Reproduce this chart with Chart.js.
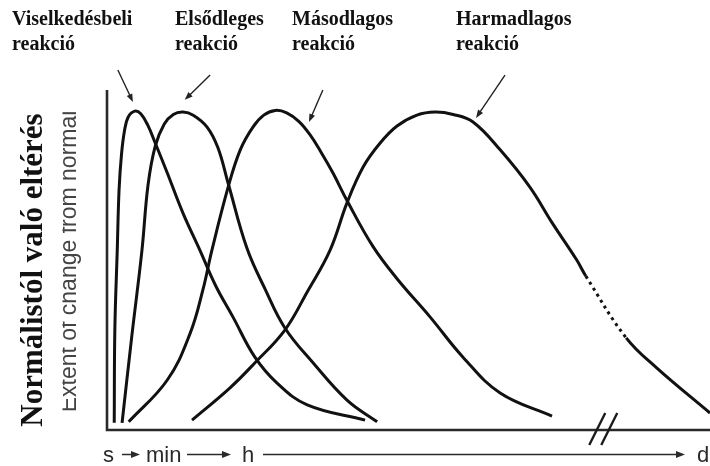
<!DOCTYPE html>
<html>
<head>
<meta charset="utf-8">
<script src="https://cdn.jsdelivr.net/npm/chart.js@4"></script>
<style>
  html, body { margin: 0; padding: 0; background: #fff; }
  #wrap { width: 710px; height: 466px; }
</style>
</head>
<body>
<div id="wrap"><canvas id="chart" width="710" height="466"></canvas></div>
<script>
// time runs 0..100 (arbitrary, s -> d), extent of change 0..100
const behavioralTime = [1.2, 1.3, 1.7, 2.0, 2.4, 2.9, 3.5, 4.6, 5.6, 6.8, 8.0, 10.0, 12.6, 15.4, 18.0, 20.9, 24.5, 28.2, 33.2, 42.8];
const behavioralExtent = [2.1, 29.4, 52.9, 70.6, 81.0, 88.0, 92.0, 93.8, 93.0, 89.5, 84.4, 75.6, 63.8, 52.9, 42.5, 33.2, 21.5, 13.8, 7.4, 2.9];

const primaryTime = [2.5, 4.1, 5.8, 6.8, 8.0, 9.5, 11.0, 12.6, 14.3, 16.6, 18.4, 20.1, 23.2, 26.2, 29.5, 34.2, 39.8, 44.8];
const primaryExtent = [2.1, 27.4, 52.9, 72.0, 83.5, 90.0, 92.8, 93.5, 92.6, 89.1, 83.0, 72.5, 53.5, 41.5, 30.0, 19.7, 8.8, 2.4];

const secondaryTime = [3.6, 10.0, 13.8, 15.9, 17.4, 20.1, 22.1, 24.2, 26.0, 27.9, 29.8, 31.8, 33.6, 35.4, 37.5, 39.8, 44.1, 48.1, 53.6, 59.0, 65.2, 73.8];
const secondaryExtent = [2.4, 14.7, 28.5, 41.2, 52.9, 71.5, 82.4, 89.1, 92.6, 94.0, 93.3, 90.8, 87.0, 82.0, 75.5, 67.5, 54.0, 44.5, 33.2, 21.5, 10.9, 4.1];

const tertiaryTime = [14.1, 20.4, 24.5, 29.5, 33.2, 37.0, 39.8, 42.5, 45.3, 48.1, 51.4, 54.4, 57.4, 60.7, 65.2, 70.1, 73.8, 77.9, 79.4, 86.1, 91.2, 100];
const tertiaryExtent = [2.9, 12.4, 19.7, 29.4, 40.6, 52.9, 66.8, 77.4, 84.4, 89.4, 92.6, 93.5, 92.8, 90.6, 82.4, 71.5, 61.0, 50.0, 45.3, 27.1, 18.2, 5.0];
// the part of the tertiary curve drawn dotted (time gap)
const tertiaryDotted = [79.4, 86.1];

const seriesLabels = [
    ['Viselkedésbeli', 'reakció'],
    ['Elsődleges', 'reakció'],
    ['Másodlagos', 'reakció'],
    ['Harmadlagos', 'reakció']
];
const timeLabels = ['s', 'min', 'h', 'd'];
const yTitle = 'Normálistól való eltérés';
const yTitleOriginal = 'Extent of change from normal';

function points(xs, ys) {
    return xs.map((x, i) => ({ x: x, y: ys[i] }));
}

function arrow(ctx, x1, y1, x2, y2, len, half) {
    const a = Math.atan2(y2 - y1, x2 - x1);
    ctx.beginPath();
    ctx.moveTo(x1, y1);
    ctx.lineTo(x2 - Math.cos(a) * len * 0.6, y2 - Math.sin(a) * len * 0.6);
    ctx.stroke();
    ctx.beginPath();
    ctx.moveTo(x2, y2);
    ctx.lineTo(x2 - Math.cos(a) * len - Math.sin(a) * half, y2 - Math.sin(a) * len + Math.cos(a) * half);
    ctx.lineTo(x2 - Math.cos(a) * len + Math.sin(a) * half, y2 - Math.sin(a) * len - Math.cos(a) * half);
    ctx.closePath();
    ctx.fill();
}

const decorations = {
    id: 'decorations',
    beforeDatasetsDraw(chart, args, opts) {
        const ctx = chart.ctx;
        const a = chart.chartArea;
        ctx.save();
        ctx.strokeStyle = '#2a2a2a';
        ctx.lineWidth = 2.6;
        ctx.beginPath();
        ctx.moveTo(a.left, a.top);
        ctx.lineTo(a.left, a.bottom);
        ctx.lineTo(a.right, a.bottom);
        ctx.stroke();
        ctx.restore();
    },
    afterDatasetsDraw(chart, args, opts) {
        const ctx = chart.ctx;
        const a = chart.chartArea;
        const xs = chart.scales.x, ys = chart.scales.y;
        ctx.save();

        // axis break
        ctx.strokeStyle = '#1a1a1a';
        ctx.lineWidth = 2.4;
        const bx = xs.getPixelForValue(opts.breakAt);
        [-6, 6].forEach(d => {
            ctx.beginPath();
            ctx.moveTo(bx + d - 8, a.bottom + 15);
            ctx.lineTo(bx + d + 8, a.bottom - 17);
            ctx.stroke();
        });

        // labels at the top
        ctx.fillStyle = '#111';
        ctx.font = 'bold 20px "Liberation Serif", "Times New Roman", serif';
        ctx.textBaseline = 'alphabetic';
        ctx.textAlign = 'left';
        seriesLabels.forEach((lines, i) => {
            lines.forEach((t, j) => ctx.fillText(t, opts.labelX[i], 25 + j * 25));
        });

        // pointers to the peaks
        ctx.strokeStyle = '#222';
        ctx.fillStyle = '#222';
        ctx.lineWidth = 1.4;
        opts.pointers.forEach(p => {
            arrow(ctx, xs.getPixelForValue(p[0]), ys.getPixelForValue(p[1]),
                xs.getPixelForValue(p[2]), ys.getPixelForValue(p[3]), 8, 3);
        });

        // time axis
        ctx.fillStyle = '#2a2a2a';
        ctx.strokeStyle = '#2a2a2a';
        ctx.font = '22px "Liberation Sans", Arial, sans-serif';
        timeLabels.forEach((t, i) => ctx.fillText(t, opts.timeX[i], 462));
        ctx.lineWidth = 1.5;
        opts.timeArrows.forEach(s => arrow(ctx, s[0], 454.5, s[1], 454.5, 9, 3.5));

        // y titles
        ctx.save();
        ctx.beginPath();
        ctx.rect(62.5, a.top, 30, a.bottom - a.top);
        ctx.clip();
        ctx.translate(76, 261.5);
        ctx.rotate(-Math.PI / 2);
        ctx.fillStyle = '#444';
        ctx.textAlign = 'center';
        ctx.font = '23px "Liberation Sans", Arial, sans-serif';
        ctx.fillText(yTitleOriginal, 0, 0);
        ctx.restore();

        ctx.save();
        ctx.translate(42, 270);
        ctx.rotate(-Math.PI / 2);
        ctx.fillStyle = '#111';
        ctx.textAlign = 'center';
        ctx.font = 'bold 31px "Liberation Serif", "Times New Roman", serif';
        ctx.fillText(yTitle, 0, 0);
        ctx.restore();

        ctx.restore();
    }
};

const line = {
    borderColor: '#111',
    borderWidth: 3,
    pointRadius: 0,
    fill: false,
    tension: 0.4
};

new Chart(document.getElementById('chart'), {
    type: 'line',
    data: {
        datasets: [
            Object.assign({ label: seriesLabels[0].join(' '), data: points(behavioralTime, behavioralExtent) }, line),
            Object.assign({ label: seriesLabels[1].join(' '), data: points(primaryTime, primaryExtent) }, line),
            Object.assign({ label: seriesLabels[2].join(' '), data: points(secondaryTime, secondaryExtent) }, line),
            Object.assign({
                label: seriesLabels[3].join(' '),
                data: points(tertiaryTime, tertiaryExtent),
                segment: {
                    borderDash: c => (c.p0.parsed.x >= tertiaryDotted[0] && c.p1.parsed.x <= tertiaryDotted[1]) ? [3, 4] : undefined
                }
            }, line)
        ]
    },
    options: {
        responsive: false,
        animation: false,
        devicePixelRatio: 1,
        layout: { padding: { left: 107, right: 0, top: 90, bottom: 36 } },
        scales: {
            x: { type: 'linear', min: 0, max: 100, display: false },
            y: { min: 0, max: 100, display: false }
        },
        plugins: {
            legend: { display: false },
            tooltip: { enabled: false },
            decorations: {
                breakAt: 82.3,
                labelX: [12, 175, 292, 456],
                // [fromX, fromY, toX, toY] in data units
                pointers: [
                    [1.8, 105.9, 4.3, 96.5],
                    [17.1, 104.4, 12.9, 97.1],
                    [35.8, 100.0, 33.5, 90.6],
                    [66.0, 104.4, 61.2, 91.8]
                ],
                timeX: [103, 146, 242, 697],
                timeArrows: [[122, 140], [187, 231], [263, 685]]
            }
        }
    },
    plugins: [decorations]
});
</script>
</body>
</html>
